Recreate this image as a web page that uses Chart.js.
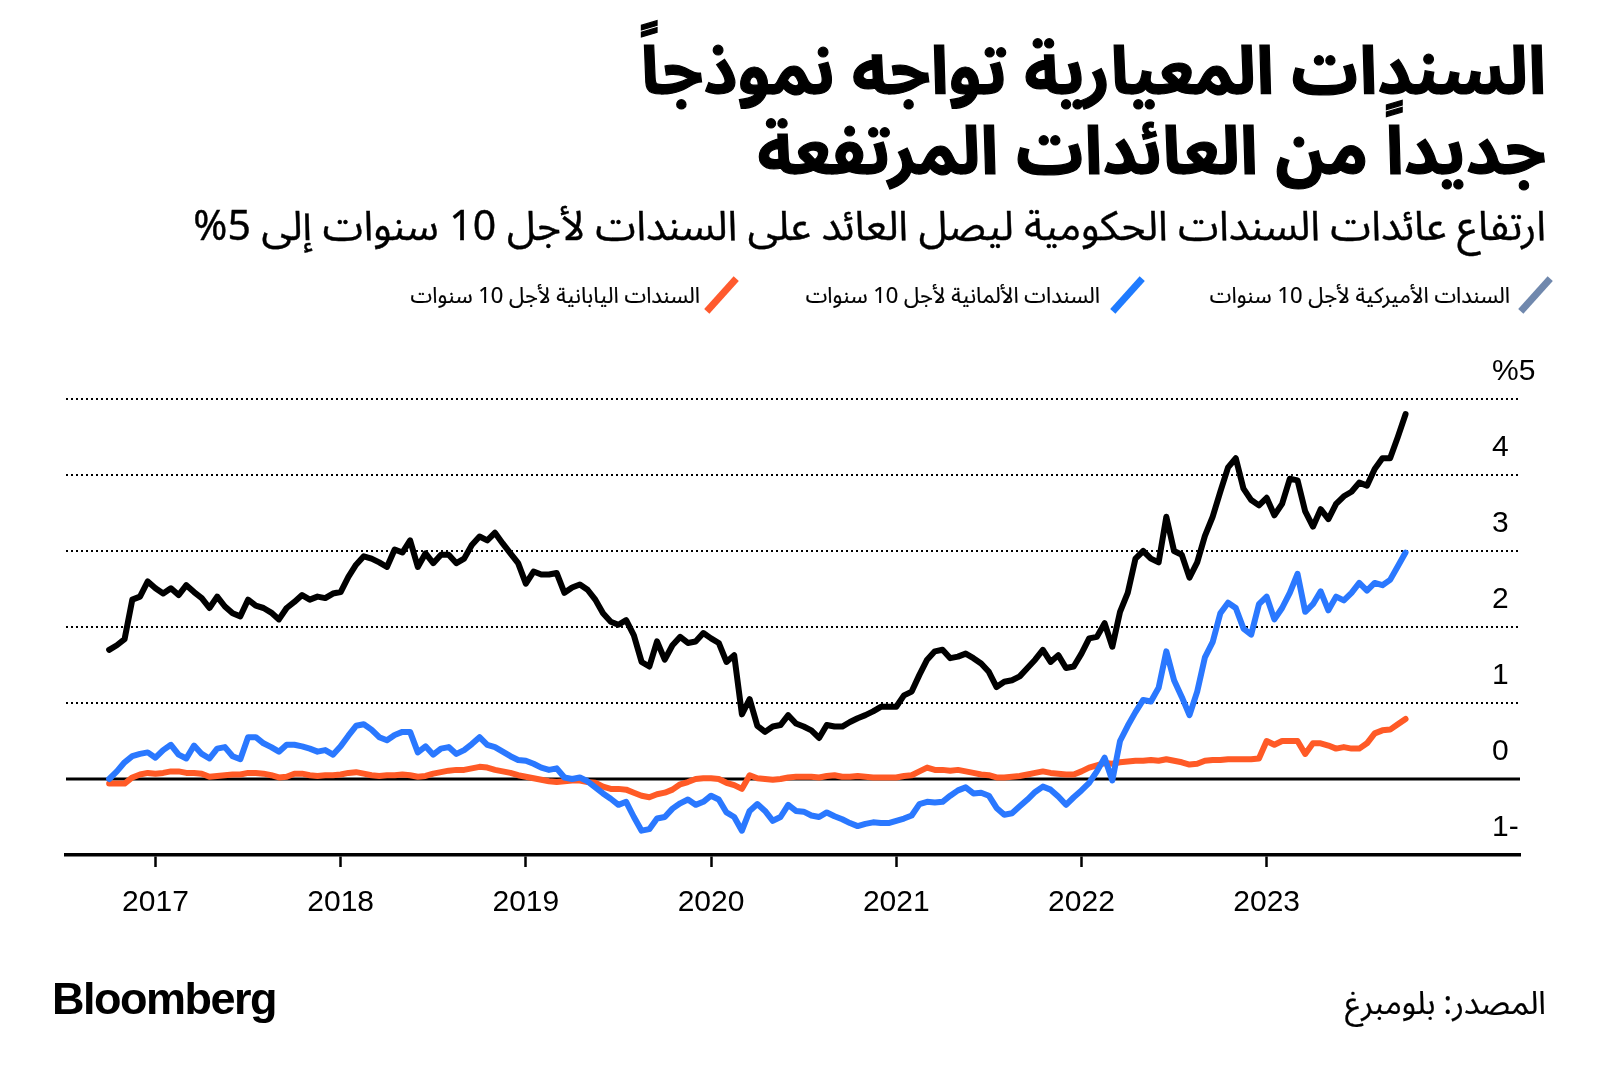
<!DOCTYPE html>
<html lang="ar">
<head>
<meta charset="utf-8">
<script src="https://cdn.jsdelivr.net/npm/chart.js@4.4.0/dist/chart.umd.min.js"></script>
<style>
  html, body { margin: 0; padding: 0; background: #fff; }
  body { width: 1600px; height: 1079px; position: relative; overflow: hidden; }
  #chart { position: absolute; left: 0; top: 0; }
  .ar { position: absolute; direction: rtl; white-space: nowrap; color: #000;
        font-family: "Noto Sans Arabic", "DejaVu Sans", sans-serif; }
  .title { right: 54px; font-weight: bold; font-size: 58px; line-height: 80px; -webkit-text-stroke: 1.2px #000; }
  .sub { right: 54px; top: 204px; font-size: 33px; line-height: 46px; -webkit-text-stroke: 0.4px #000; }
  .leg { top: 281px; font-size: 22px; line-height: 30px; -webkit-text-stroke: 0.2px #000; }
  .mark { position: absolute; top: 273px; width: 7px; height: 44px; transform: rotate(42deg); }
  .src { right: 54px; top: 984px; font-size: 28px; line-height: 40px; -webkit-text-stroke: 0.2px #000; }
  .logo { position: absolute; left: 52px; top: 973px; font-family: "Liberation Sans", Arial, sans-serif;
          font-weight: bold; font-size: 45px; letter-spacing: -1.5px; line-height: 52px; }
</style>
</head>
<body>
<canvas id="chart" width="1600" height="1079"></canvas>

<div class="ar title" id="t1" style="top:33px">السندات المعيارية تواجه نموذجاً</div>
<div class="ar title" id="t2" style="top:113px">جديداً من العائدات المرتفعة</div>
<div class="ar sub" id="sub">ارتفاع عائدات السندات الحكومية ليصل العائد على السندات لأجل 10 سنوات إلى 5%</div>

<div class="mark" style="left:1532px;background:#7088ad"></div>
<div class="ar leg" id="l1" style="right:90px">السندات الأميركية لأجل 10 سنوات</div>
<div class="mark" style="left:1124px;background:#1f7bff"></div>
<div class="ar leg" id="l2" style="right:500px">السندات الألمانية لأجل 10 سنوات</div>
<div class="mark" style="left:718px;background:#ff5a2e"></div>
<div class="ar leg" id="l3" style="right:900px">السندات اليابانية لأجل 10 سنوات</div>

<div class="logo">Bloomberg</div>
<div class="ar src" id="src">المصدر: بلومبرغ</div>

<script>
// half-month observations, Oct 2016 - Oct 2023
const dates = [
  '2016-10-01','2016-10-16','2016-11-01','2016-11-16','2016-12-01','2016-12-16',
  '2017-01-01','2017-01-16','2017-02-01','2017-02-16','2017-03-01','2017-03-16','2017-04-01','2017-04-16','2017-05-01','2017-05-16','2017-06-01','2017-06-16',
  '2017-07-01','2017-07-16','2017-08-01','2017-08-16','2017-09-01','2017-09-16','2017-10-01','2017-10-16','2017-11-01','2017-11-16','2017-12-01','2017-12-16',
  '2018-01-01','2018-01-16','2018-02-01','2018-02-16','2018-03-01','2018-03-16','2018-04-01','2018-04-16','2018-05-01','2018-05-16','2018-06-01','2018-06-16',
  '2018-07-01','2018-07-16','2018-08-01','2018-08-16','2018-09-01','2018-09-16','2018-10-01','2018-10-16','2018-11-01','2018-11-16','2018-12-01','2018-12-16',
  '2019-01-01','2019-01-16','2019-02-01','2019-02-16','2019-03-01','2019-03-16','2019-04-01','2019-04-16','2019-05-01','2019-05-16','2019-06-01','2019-06-16',
  '2019-07-01','2019-07-16','2019-08-01','2019-08-16','2019-09-01','2019-09-16','2019-10-01','2019-10-16','2019-11-01','2019-11-16','2019-12-01','2019-12-16',
  '2020-01-01','2020-01-16','2020-02-01','2020-02-16','2020-03-01','2020-03-16','2020-04-01','2020-04-16','2020-05-01','2020-05-16','2020-06-01','2020-06-16',
  '2020-07-01','2020-07-16','2020-08-01','2020-08-16','2020-09-01','2020-09-16','2020-10-01','2020-10-16','2020-11-01','2020-11-16','2020-12-01','2020-12-16',
  '2021-01-01','2021-01-16','2021-02-01','2021-02-16','2021-03-01','2021-03-16','2021-04-01','2021-04-16','2021-05-01','2021-05-16','2021-06-01','2021-06-16',
  '2021-07-01','2021-07-16','2021-08-01','2021-08-16','2021-09-01','2021-09-16','2021-10-01','2021-10-16','2021-11-01','2021-11-16','2021-12-01','2021-12-16',
  '2022-01-01','2022-01-16','2022-02-01','2022-02-16','2022-03-01','2022-03-16','2022-04-01','2022-04-16','2022-05-01','2022-05-16','2022-06-01','2022-06-16',
  '2022-07-01','2022-07-16','2022-08-01','2022-08-16','2022-09-01','2022-09-16','2022-10-01','2022-10-16','2022-11-01','2022-11-16','2022-12-01','2022-12-16',
  '2023-01-01','2023-01-16','2023-02-01','2023-02-16','2023-03-01','2023-03-16','2023-04-01','2023-04-16','2023-05-01','2023-05-16','2023-06-01','2023-06-16',
  '2023-07-01','2023-07-16','2023-08-01','2023-08-16','2023-09-01','2023-09-16','2023-10-01'
];

const usYield = [
  1.70, 1.76, 1.84, 2.36, 2.40, 2.60,
  2.51, 2.44, 2.51, 2.42, 2.55, 2.46, 2.38, 2.25, 2.40, 2.27, 2.18, 2.14, 2.36, 2.28, 2.25, 2.19, 2.10, 2.25, 2.33, 2.42, 2.36, 2.40, 2.38, 2.44,
  2.46, 2.66, 2.82, 2.93, 2.90, 2.85, 2.79, 3.02, 2.98, 3.14, 2.79, 2.97, 2.84, 2.95, 2.95, 2.84, 2.90, 3.08, 3.19, 3.14, 3.24, 3.10, 2.97, 2.84,
  2.57, 2.73, 2.69, 2.69, 2.71, 2.45, 2.52, 2.56, 2.49, 2.36, 2.18, 2.07, 2.03, 2.09, 1.89, 1.54, 1.48, 1.81, 1.57, 1.76, 1.87, 1.79, 1.81, 1.92,
  1.85, 1.79, 1.54, 1.63, 0.85, 1.05, 0.70, 0.62, 0.69, 0.71, 0.84, 0.73, 0.69, 0.64, 0.54, 0.71, 0.69, 0.69, 0.75, 0.80, 0.84, 0.89, 0.95, 0.95,
  0.95, 1.10, 1.15, 1.37, 1.57, 1.68, 1.70, 1.59, 1.61, 1.65, 1.59, 1.52, 1.41, 1.21, 1.28, 1.30, 1.35, 1.46, 1.57, 1.70, 1.54, 1.63, 1.46, 1.48,
  1.65, 1.85, 1.87, 2.05, 1.74, 2.20, 2.45, 2.90, 3.00, 2.90, 2.85, 3.45, 3.00, 2.95, 2.65, 2.85, 3.20, 3.45, 3.78, 4.10, 4.22, 3.82, 3.67, 3.60,
  3.70, 3.47, 3.62, 3.95, 3.93, 3.52, 3.32, 3.55, 3.42, 3.62, 3.72, 3.78, 3.90, 3.86, 4.08, 4.22, 4.22, 4.50, 4.80
];

const deYield = [
  0.00, 0.10, 0.22, 0.30, 0.33, 0.35,
  0.28, 0.38, 0.45, 0.32, 0.27, 0.44, 0.33, 0.27, 0.40, 0.42, 0.30, 0.26, 0.55, 0.55, 0.47, 0.42, 0.36, 0.45, 0.45, 0.43, 0.40, 0.36, 0.38, 0.32,
  0.43, 0.57, 0.70, 0.72, 0.65, 0.55, 0.51, 0.58, 0.62, 0.62, 0.35, 0.43, 0.32, 0.40, 0.42, 0.33, 0.38, 0.46, 0.55, 0.45, 0.42, 0.36, 0.30, 0.25,
  0.24, 0.20, 0.15, 0.12, 0.14, 0.02, 0.00, 0.02, -0.03, -0.11, -0.19, -0.26, -0.34, -0.30, -0.50, -0.68, -0.66, -0.52, -0.50, -0.39, -0.32, -0.27, -0.34, -0.30,
  -0.22, -0.27, -0.44, -0.50, -0.68, -0.42, -0.33, -0.42, -0.55, -0.50, -0.34, -0.42, -0.43, -0.48, -0.50, -0.44, -0.49, -0.53, -0.58, -0.62, -0.59, -0.57, -0.58, -0.58,
  -0.55, -0.52, -0.48, -0.33, -0.30, -0.31, -0.30, -0.22, -0.15, -0.11, -0.19, -0.18, -0.22, -0.38, -0.47, -0.45, -0.36, -0.27, -0.17, -0.10, -0.14, -0.23, -0.34, -0.24,
  -0.15, -0.05, 0.10, 0.28, -0.02, 0.50, 0.70, 0.88, 1.04, 1.02, 1.20, 1.68, 1.30, 1.08, 0.84, 1.15, 1.60, 1.80, 2.18, 2.32, 2.25, 1.98, 1.90, 2.30,
  2.40, 2.10, 2.25, 2.45, 2.70, 2.20, 2.30, 2.47, 2.22, 2.40, 2.35, 2.45, 2.58, 2.48, 2.58, 2.55, 2.62, 2.80, 2.98
];

const jpYield = [
  -0.06, -0.06, -0.06, 0.02, 0.06, 0.08,
  0.07, 0.08, 0.10, 0.10, 0.08, 0.08, 0.07, 0.03, 0.04, 0.05, 0.06, 0.06, 0.08, 0.08, 0.07, 0.05, 0.02, 0.03, 0.07, 0.07, 0.05, 0.04, 0.05, 0.05,
  0.06, 0.08, 0.09, 0.07, 0.05, 0.04, 0.05, 0.05, 0.06, 0.05, 0.03, 0.04, 0.07, 0.09, 0.11, 0.12, 0.12, 0.14, 0.16, 0.15, 0.12, 0.10, 0.08, 0.05,
  0.03, 0.01, -0.01, -0.03, -0.04, -0.03, -0.02, -0.02, -0.04, -0.05, -0.10, -0.13, -0.13, -0.14, -0.18, -0.22, -0.24, -0.20, -0.18, -0.14, -0.07, -0.04, 0.00, 0.01,
  0.01, 0.00, -0.05, -0.08, -0.13, 0.05, 0.01, 0.00, -0.01, 0.00, 0.02, 0.03, 0.03, 0.03, 0.02, 0.04, 0.05, 0.03, 0.03, 0.04, 0.03, 0.02, 0.02, 0.02,
  0.02, 0.04, 0.05, 0.10, 0.15, 0.12, 0.12, 0.11, 0.12, 0.10, 0.08, 0.06, 0.05, 0.02, 0.02, 0.03, 0.04, 0.06, 0.08, 0.10, 0.08, 0.07, 0.06, 0.06,
  0.10, 0.15, 0.18, 0.21, 0.20, 0.22, 0.23, 0.24, 0.24, 0.25, 0.24, 0.26, 0.24, 0.22, 0.19, 0.20, 0.24, 0.25, 0.25, 0.26, 0.26, 0.26, 0.26, 0.27,
  0.50, 0.45, 0.50, 0.50, 0.50, 0.33, 0.47, 0.47, 0.44, 0.40, 0.42, 0.40, 0.40, 0.47, 0.60, 0.64, 0.65, 0.72, 0.79
];

const yearTicks = [2017, 2018, 2019, 2020, 2021, 2022, 2023];
const yTicks = [-1, 0, 1, 2, 3, 4, 5];

// date string -> fractional year for the linear x scale
function toYear(s) {
  const [y, m, d] = s.split('-').map(Number);
  return y + (m - 1) / 12 + (d - 1) / 30 / 12;
}
const xs = dates.map(toYear);
const series = vals => vals.map((v, i) => ({ x: xs[i], y: v }));

const axisFont = { family: 'Liberation Sans, Arial, sans-serif', size: 30 };
const yLabel = v => v === 5 ? '%5' : (v < 0 ? Math.abs(v) + '-' : String(v));

// labels sit left-aligned 28px inside the plot's right edge
const mctx = document.createElement('canvas').getContext('2d');
mctx.font = axisFont.size + 'px ' + axisFont.family;
const widest = Math.max(...yTicks.map(v => mctx.measureText(yLabel(v)).width));

const zeroLine = {
  id: 'zeroLine',
  beforeDatasetsDraw(chart) {
    const { ctx, chartArea, scales } = chart;
    const y = Math.round(scales.y.getPixelForValue(0));
    ctx.save();
    ctx.strokeStyle = '#000';
    ctx.lineWidth = 3;
    ctx.beginPath();
    ctx.moveTo(chartArea.left, y);
    ctx.lineTo(chartArea.right, y);
    ctx.stroke();
    ctx.restore();
  }
};

const lineStyle = { borderWidth: 6, pointRadius: 0, tension: 0, borderJoinStyle: 'round', borderCapStyle: 'round', fill: false };

new Chart(document.getElementById('chart'), {
  type: 'line',
  data: {
    datasets: [
      { label: 'US', data: series(usYield), borderColor: '#000000', ...lineStyle },
      { label: 'DE', data: series(deYield), borderColor: '#2a78ff', ...lineStyle },
      { label: 'JP', data: series(jpYield), borderColor: '#ff5a26', ...lineStyle }
    ]
  },
  options: {
    responsive: false,
    animation: false,
    devicePixelRatio: 1,
    layout: { padding: { left: 66, top: 399, right: 0, bottom: 144 } },
    plugins: { legend: { display: false }, tooltip: { enabled: false } },
    scales: {
      x: {
        type: 'linear',
        min: 2016.517,
        max: 2024.368,
        afterBuildTicks: s => { s.ticks = yearTicks.map(v => ({ value: v })); },
        afterFit: s => { s.height = 80; },
        grid: { drawOnChartArea: false, drawTicks: true, tickLength: 12, tickWidth: 2.5, tickColor: '#000' },
        border: { display: true, color: '#000', width: 3.5 },
        ticks: {
          autoSkip: false, maxRotation: 0, padding: 18, color: '#000',
          font: axisFont,
          callback: v => String(v)
        }
      },
      y: {
        position: 'right',
        min: -1,
        max: 5,
        afterBuildTicks: s => { s.ticks = yTicks.map(v => ({ value: v })); },
        afterFit: s => { s.width = 80; },
        grid: {
          drawTicks: false,
          lineWidth: 2,
          color: c => (c.tick && c.tick.value > 0) ? '#000' : 'rgba(0,0,0,0)'
        },
        border: { display: false, dash: [2, 3] },
        ticks: {
          mirror: true, crossAlign: 'far', padding: widest - 28, labelOffset: -27,
          autoSkip: false, color: '#000',
          font: axisFont,
          callback: yLabel
        }
      }
    }
  },
  plugins: [zeroLine]
});

// fit the Arabic text to the widths it takes in the original
function fitWidth(id, target) {
  const el = document.getElementById(id);
  const w = el.getBoundingClientRect().width;
  const fs = parseFloat(getComputedStyle(el).fontSize);
  el.style.fontSize = (fs * target / w).toFixed(1) + 'px';
}
fitWidth('t1', 905);
fitWidth('t2', 788);
fitWidth('sub', 1354);
fitWidth('l1', 301);
fitWidth('l2', 294);
fitWidth('l3', 289);
fitWidth('src', 201);
</script>
</body>
</html>
